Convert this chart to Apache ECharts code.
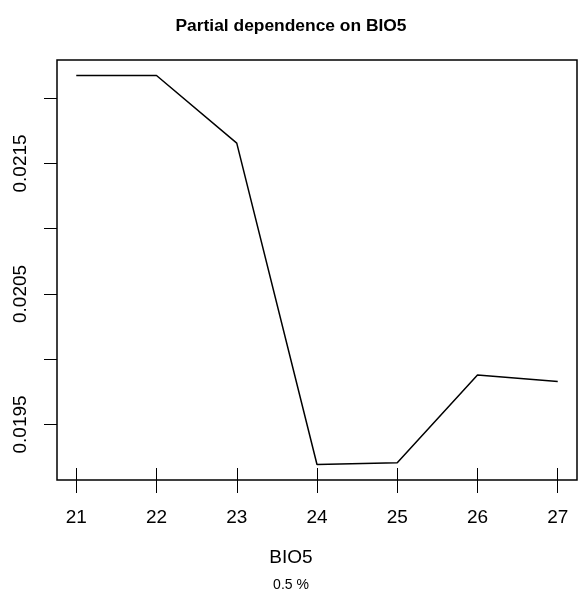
<!DOCTYPE html>
<html>
<head>
<meta charset="utf-8">
<script src="https://cdn.jsdelivr.net/npm/echarts@6/dist/echarts.min.js"></script>
<style>html,body{margin:0;padding:0;background:#fff;}#c{width:582px;height:595px;}</style>
</head>
<body>
<div id="c"></div>
<script>
const xValues = [21, 22, 23, 24, 25, 26, 27];
const yValues = [0.022174, 0.022174, 0.021656, 0.019193, 0.019206, 0.019878, 0.019828];
const xTicks = [21, 22, 23, 24, 25, 26, 27];
const yTicks = [0.0195, 0.0200, 0.0205, 0.0210, 0.0215, 0.0220];
const yLabeled = [0.0195, 0.0205, 0.0215];
const xRange = [20.76, 27.24];
const yRange = [0.019074, 0.022293];
const titleText = 'Partial dependence on BIO5';
const xName = 'BIO5';
const subText = '0.5 %';

const FONT = 'Liberation Sans, Arial, Helvetica, sans-serif';
const chart = echarts.init(document.getElementById('c'), null, {renderer: 'canvas'});
chart.setOption({
  animation: false,
  backgroundColor: '#fff',
  title: [
    {text: titleText, left: 'center', top: 13, textStyle: {fontFamily: FONT, fontWeight: 'bold', fontSize: 17.4, color: '#000'}},
    {text: xName, left: 'center', top: 543, textStyle: {fontFamily: FONT, fontWeight: 'normal', fontSize: 19, color: '#000'}},
    {text: subText, left: 'center', top: 573, textStyle: {fontFamily: FONT, fontWeight: 'normal', fontSize: 14, color: '#000'}}
  ],
  grid: {left: 57, right: 5, top: 60, bottom: 115, show: true, borderColor: '#000', borderWidth: 1.5, containLabel: false},
  xAxis: [
    {
      type: 'value', min: xRange[0], max: xRange[1], position: 'bottom',
      axisLine: {show: false},
      splitLine: {show: false},
      axisTick: {show: true, length: 13, customValues: xTicks, lineStyle: {color: '#000', width: 1}},
      axisLabel: {show: true, customValues: xTicks, margin: 28, fontFamily: FONT, fontSize: 19, color: '#000'}
    },
    {
      type: 'value', min: xRange[0], max: xRange[1], position: 'bottom',
      axisLine: {show: false},
      splitLine: {show: false},
      axisTick: {show: true, inside: true, length: 12, customValues: xTicks, lineStyle: {color: '#000', width: 1}},
      axisLabel: {show: false}
    }
  ],
  yAxis: {
    type: 'value', min: yRange[0], max: yRange[1],
    axisLine: {show: false},
    splitLine: {show: false},
    axisTick: {show: true, length: 13, customValues: yTicks, lineStyle: {color: '#000', width: 1}},
    axisLabel: {
      show: true, customValues: yLabeled, rotate: 90, margin: 27,
      fontFamily: FONT, fontSize: 19, color: '#000',
      formatter: v => v.toFixed(4)
    }
  },
  series: [{
    type: 'line',
    xAxisIndex: 0,
    data: xValues.map((x, i) => [x, yValues[i]]),
    showSymbol: false,
    symbol: 'none',
    lineStyle: {color: '#000', width: 1.5},
    itemStyle: {color: '#000'}
  }]
});
</script>
</body>
</html>
